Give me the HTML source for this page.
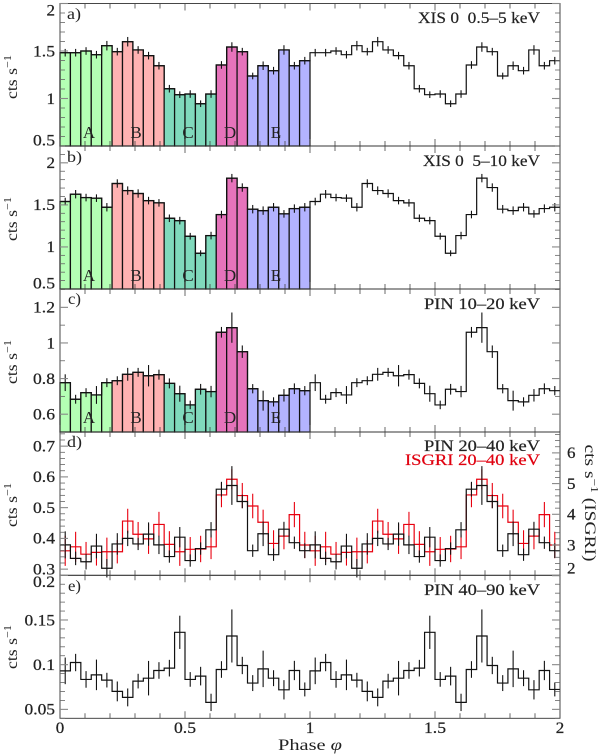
<!DOCTYPE html>
<html lang="en">
<head>
<meta charset="utf-8">
<title>Folded pulse profiles</title>
<style>
html,body{margin:0;padding:0;background:#fff;}
#chart{display:block;width:600px;height:756px;}
text{font-family:"Liberation Serif",serif;font-size:16px;fill:#222;}
.title{stroke:#222;stroke-width:.2px;}
.tick{stroke:#222;stroke-width:.25px;}
</style>
</head>
<body>
<svg id="chart" xmlns="http://www.w3.org/2000/svg" width="600" height="756" viewBox="0 0 600 756">
  <g id="marks"></g>
  <g id="axes"></g>

  <g>
    <text x="67" y="19" textLength="14" lengthAdjust="spacingAndGlyphs">a)</text>
    <text x="67" y="162" textLength="15" lengthAdjust="spacingAndGlyphs">b)</text>
    <text x="68" y="304" textLength="13" lengthAdjust="spacingAndGlyphs">c)</text>
    <text x="67" y="447" textLength="15" lengthAdjust="spacingAndGlyphs">d)</text>
    <text x="68" y="591" textLength="13" lengthAdjust="spacingAndGlyphs">e)</text>
  </g>

  <g text-anchor="end">
    <text class="title" x="540" y="23" textLength="122" lengthAdjust="spacingAndGlyphs">XIS 0 &#160;0.5–5 keV</text>
    <text class="title" x="540" y="166" textLength="117" lengthAdjust="spacingAndGlyphs">XIS 0 &#160;5–10 keV</text>
    <text class="title" x="540" y="309" textLength="116" lengthAdjust="spacingAndGlyphs">PIN 10–20 keV</text>
    <text class="title" x="540" y="451" textLength="116" lengthAdjust="spacingAndGlyphs">PIN 20–40 keV</text>
    <text class="title" x="540" y="465" textLength="135" lengthAdjust="spacingAndGlyphs" style="fill:#e0000f;stroke:#e0000f">ISGRI 20–40 keV</text>
    <text class="title" x="540" y="595" textLength="116" lengthAdjust="spacingAndGlyphs">PIN 40–90 keV</text>
  </g>

  <g text-anchor="middle" style="font-size:17px">
    <text x="89" y="138" style="font-size:17px">A</text>
    <text x="136" y="138" style="font-size:17px">B</text>
    <text x="188" y="138" style="font-size:17px">C</text>
    <text x="230" y="138" style="font-size:17px">D</text>
    <text x="276" y="138" style="font-size:17px">E</text>
    <text x="89" y="281" style="font-size:17px">A</text>
    <text x="136" y="281" style="font-size:17px">B</text>
    <text x="188" y="281" style="font-size:17px">C</text>
    <text x="230" y="281" style="font-size:17px">D</text>
    <text x="276" y="281" style="font-size:17px">E</text>
    <text x="89" y="423" style="font-size:17px">A</text>
    <text x="136" y="423" style="font-size:17px">B</text>
    <text x="188" y="423" style="font-size:17px">C</text>
    <text x="230" y="423" style="font-size:17px">D</text>
    <text x="276" y="423" style="font-size:17px">E</text>
  </g>

  <g text-anchor="middle">
    <text transform="translate(17,77) rotate(-90)" textLength="44" lengthAdjust="spacingAndGlyphs">cts s<tspan dy="-6" style="font-size:11px">−1</tspan></text>
    <text transform="translate(17,219) rotate(-90)" textLength="44" lengthAdjust="spacingAndGlyphs">cts s<tspan dy="-6" style="font-size:11px">−1</tspan></text>
    <text transform="translate(17,362) rotate(-90)" textLength="44" lengthAdjust="spacingAndGlyphs">cts s<tspan dy="-6" style="font-size:11px">−1</tspan></text>
    <text transform="translate(17,505) rotate(-90)" textLength="44" lengthAdjust="spacingAndGlyphs">cts s<tspan dy="-6" style="font-size:11px">−1</tspan></text>
    <text transform="translate(17,647) rotate(-90)" textLength="44" lengthAdjust="spacingAndGlyphs">cts s<tspan dy="-6" style="font-size:11px">−1</tspan></text>
    <text transform="translate(585,503) rotate(90)" textLength="117" lengthAdjust="spacingAndGlyphs">cts s<tspan dy="-6" style="font-size:11px">−1</tspan><tspan dy="6"> (ISGRI)</tspan></text>
    <text x="310" y="750" textLength="64" lengthAdjust="spacingAndGlyphs">Phase <tspan font-style="italic">φ</tspan></text>
  </g>
</svg>

<script>
// Shared x axis (phase) and bins
const xTickLabels = [0, 0.5, 1, 1.5, 2];
const regionColors = ["#b4ffb4", "#ffb2b2", "#80d9bc", "#e673bb", "#b3b3ff"];
const regionBins = [5, 5, 5, 3, 6];

// Panel a: XIS 0 0.5-5 keV
const xisSoftValues = [1.482,1.482,1.5,1.461,1.556,1.493,1.598,1.511,1.451,1.345,1.103,1.04,1.047,0.945,1.047,1.353,1.542,1.493,1.237,1.345,1.293,1.511,1.345,1.398];
const xisSoftErrors = [0.04,0.04,0.04,0.04,0.05,0.04,0.05,0.04,0.04,0.04,0.04,0.035,0.04,0.035,0.04,0.04,0.05,0.04,0.035,0.045,0.04,0.05,0.04,0.04];
const xisSoftTicks = [0.5, 1, 1.5, 2];

// Panel b: XIS 0 5-10 keV
const xisHardValues = [1.54,1.627,1.587,1.58,1.472,1.754,1.67,1.635,1.551,1.524,1.341,1.313,1.127,0.925,1.135,1.385,1.818,1.706,1.449,1.432,1.472,1.393,1.456,1.472];
const xisHardErrors = [0.045,0.05,0.045,0.045,0.05,0.05,0.05,0.05,0.045,0.045,0.045,0.045,0.04,0.035,0.045,0.045,0.05,0.05,0.05,0.05,0.05,0.045,0.05,0.05];
const xisHardTicks = [0.5, 1, 1.5, 2];

// Panel c: PIN 10-20 keV
const pin1020Values = [0.777,0.684,0.721,0.708,0.777,0.788,0.824,0.835,0.816,0.822,0.773,0.715,0.652,0.74,0.727,1.06,1.086,0.951,0.743,0.676,0.669,0.706,0.743,0.732];
const pin1020Errors = [0.047,0.025,0.025,0.05,0.025,0.025,0.036,0.025,0.06,0.028,0.028,0.045,0.024,0.03,0.032,0.03,0.085,0.035,0.026,0.056,0.026,0.035,0.03,0.026];
const pin1020Ticks = [0.6, 0.8, 1, 1.2];

// Panel d: PIN 20-40 keV (left axis) and ISGRI 20-40 keV (right axis)
const pin2040Values = [0.379,0.335,0.324,0.375,0.303,0.382,0.4,0.382,0.414,0.379,0.341,0.404,0.328,0.367,0.428,0.56,0.572,0.52,0.36,0.415,0.347,0.43,0.386,0.36];
const pin2040Errors = [0.044,0.022,0.025,0.04,0.03,0.035,0.025,0.02,0.038,0.03,0.02,0.033,0.02,0.02,0.025,0.024,0.063,0.022,0.02,0.04,0.02,0.024,0.02,0.024];
const pin2040Ticks = [0.3, 0.4, 0.5, 0.6, 0.7];
const isgriValues = [2.81,2.94,2.7,2.76,2.78,2.78,3.78,3.35,3.2,3.67,3.02,2.78,2.86,2.87,2.94,4.63,5.14,4.61,4.27,3.74,3.05,3.29,3.99,3.0];
const isgriErrors = [0.49,0.49,0.4,0.43,0.46,0.38,0.4,0.4,0.49,0.41,0.43,0.46,0.4,0.43,0.4,0.4,0.33,0.41,0.4,0.41,0.43,0.43,0.41,0.43];
const isgriTicks = [2, 3, 4, 5, 6];

// Panel e: PIN 40-90 keV
const pin4090Values = [0.0931,0.1024,0.0835,0.0886,0.0827,0.0701,0.0634,0.0816,0.0849,0.0935,0.0961,0.1362,0.0835,0.0872,0.0578,0.0946,0.1321,0.0991,0.0794,0.0953,0.0849,0.0719,0.0935,0.0723];
const pin4090Errors = [0.0149,0.0097,0.0093,0.0171,0.0082,0.0111,0.01,0.0082,0.0193,0.0093,0.0093,0.0186,0.0082,0.0104,0.0097,0.0093,0.0297,0.0097,0.0089,0.0204,0.0089,0.0108,0.0108,0.0078];
const pin4090Ticks = [0.05, 0.1, 0.15, 0.2];

const SVG_NS = "http://www.w3.org/2000/svg";
const marksLayer = document.getElementById("marks");
const axesLayer = document.getElementById("axes");
const plotLeft = 60;
const plotRight = 560;

function xScale(phase) {
  return plotLeft + (plotRight - plotLeft) * phase / 2;
}
function linearY(lo, hi, bottom, top) {
  return function (v) { return bottom - (v - lo) * (bottom - top) / (hi - lo); };
}
function binEdge(i) {
  return xScale(i / 24);
}
function labelWidth(str) {
  let w = 0;
  for (const ch of str) w += ch === "." ? 5 : 8.5;
  return w;
}

function drawNode(parent, tag, attrs, name) {
  const node = document.createElementNS(SVG_NS, tag);
  for (const key in attrs) node.setAttribute(key, attrs[key]);
  
  
  parent.appendChild(node);
  return node;
}

function drawBars(values, y, base, prefix) {
  let bin = 0;
  regionBins.forEach(function (count, region) {
    for (let k = 0; k < count; k++) {
      const i = bin + k;
      const top = y(values[i]);
      drawNode(marksLayer, "rect", {
        x: binEdge(i), y: top, width: binEdge(i + 1) - binEdge(i), height: base - top,
        fill: regionColors[region], stroke: "#111", "stroke-width": 1.25
      }, prefix + "-bar-" + (i + 1));
    }
    bin += count;
  });
}

function drawSeries(values, errors, y, color, prefix) {
  const n = values.length;
  let d = "";
  for (let c = 0; c < 2; c++) {
    for (let i = 0; i < n; i++) {
      const b = c * n + i;
      d += (b === 0 ? "M" : "L") + binEdge(b) + " " + y(values[i]) + "L" + binEdge(b + 1) + " " + y(values[i]);
    }
  }
  drawNode(marksLayer, "path", { d: d, fill: "none", stroke: color, "stroke-width": 1.2 }, prefix + "-step-line");
  for (let c = 0; c < 2; c++) {
    for (let i = 0; i < n; i++) {
      const b = c * n + i;
      const xm = (binEdge(b) + binEdge(b + 1)) / 2;
      drawNode(marksLayer, "line", {
        x1: xm, x2: xm, y1: y(values[i] - errors[i]), y2: y(values[i] + errors[i]),
        stroke: color, "stroke-width": 1.1
      }, prefix + "-error-bar-" + (b + 1));
    }
  }
}

function drawFrame(top, bottom, prefix) {
  drawNode(axesLayer, "rect", {
    x: plotLeft, y: top, width: plotRight - plotLeft, height: bottom - top,
    fill: "none", stroke: "#333", "stroke-width": 0.9
  }, prefix + "-frame");
  for (let t = 0; t <= 20; t++) {
    const px = xScale(t / 10);
    const len = t % 5 === 0 ? 7 : 5;
    drawNode(axesLayer, "line", { x1: px, x2: px, y1: bottom, y2: bottom - len, stroke: "#444", "stroke-width": 0.8 }, prefix + "-x-tick-bottom");
    drawNode(axesLayer, "line", { x1: px, x2: px, y1: top, y2: top + len, stroke: "#444", "stroke-width": 0.8 }, prefix + "-x-tick-top");
  }
}

function drawYTicks(lo, hi, minorStep, majorEvery, y, side, prefix) {
  const count = Math.round((hi - lo) / minorStep);
  const anchor = Math.round(lo / minorStep);
  for (let k = 0; k <= count; k++) {
    const idx = anchor + k;
    const py = y(idx * minorStep);
    const major = idx % majorEvery === 0;
    const len = major ? 8 : 5;
    const col = major ? "#888" : "#666";
    if (side !== "right") {
      drawNode(axesLayer, "line", { x1: plotLeft, x2: plotLeft + len, y1: py, y2: py, stroke: col, "stroke-width": major ? 1.1 : 0.8 }, prefix + "-y-tick-left");
    }
    if (side !== "left") {
      drawNode(axesLayer, "line", { x1: plotRight, x2: plotRight - len, y1: py, y2: py, stroke: col, "stroke-width": major ? 1.1 : 0.8 }, prefix + "-y-tick-right");
    }
  }
}

function drawYLabels(ticks, y, top, bottom, x, anchor, prefix) {
  ticks.forEach(function (v) {
    const py = Math.min(bottom - 6, Math.max(top + 6.5, y(v)));
    const str = String(v);
    const label = drawNode(axesLayer, "text", {
      x: x, y: py + 5.3, "text-anchor": anchor, "class": "tick",
      textLength: labelWidth(str), lengthAdjust: "spacingAndGlyphs"
    }, prefix + "-y-tick-label");
    label.textContent = str;
  });
}

function drawXLabels() {
  xTickLabels.forEach(function (v) {
    const str = String(v);
    const label = drawNode(axesLayer, "text", {
      x: xScale(v), y: 733, "text-anchor": "middle", "class": "tick",
      textLength: labelWidth(str), lengthAdjust: "spacingAndGlyphs"
    }, "x-tick-label");
    label.textContent = str;
  });
}

// Panel a
const yA = linearY(0.5, 2, 146, 3.5);
drawBars(xisSoftValues, yA, 146, "xis-soft");
drawSeries(xisSoftValues, xisSoftErrors, yA, "#111", "xis-soft");
drawFrame(3.5, 146, "panel-a");
drawYTicks(0.5, 2, 0.1, 5, yA, "both", "panel-a");
drawYLabels(xisSoftTicks, yA, 3.5, 146, 55, "end", "panel-a");

// Panel b
const yB = linearY(0.5, 2.2, 289, 146);
drawBars(xisHardValues, yB, 289, "xis-hard");
drawSeries(xisHardValues, xisHardErrors, yB, "#111", "xis-hard");
drawFrame(146, 289, "panel-b");
drawYTicks(0.5, 2.2, 0.1, 5, yB, "both", "panel-b");
drawYLabels(xisHardTicks, yB, 146, 289, 55, "end", "panel-b");

// Panel c
const yC = linearY(0.5, 1.303, 432, 289);
drawBars(pin1020Values, yC, 432, "pin-10-20");
drawSeries(pin1020Values, pin1020Errors, yC, "#111", "pin-10-20");
drawFrame(289, 432, "panel-c");
drawYTicks(0.5, 1.3, 0.1, 2, yC, "both", "panel-c");
drawYLabels(pin1020Ticks, yC, 289, 432, 55, "end", "panel-c");

// Panel d
const yD = linearY(0.28, 0.746, 575.3, 432);
const yDRight = linearY(2, 6.667, 575.7, 432.4);
drawSeries(isgriValues, isgriErrors, yDRight, "#e8000f", "isgri-20-40");
drawSeries(pin2040Values, pin2040Errors, yD, "#111", "pin-20-40");
drawFrame(432, 575.3, "panel-d");
drawYTicks(0.28, 0.74, 0.02, 5, yD, "left", "panel-d");
drawYTicks(2, 6.6, 0.2, 5, yDRight, "right", "panel-d");
drawYLabels(pin2040Ticks, yD, 432, 575.3, 55, "end", "panel-d");
drawYLabels(isgriTicks, yDRight, 432, 574.3, 567, "start", "panel-d-right");

// Panel e
const yE = linearY(0.04, 0.2, 718.3, 575.3);
drawSeries(pin4090Values, pin4090Errors, yE, "#111", "pin-40-90");
drawFrame(575.3, 718.3, "panel-e");
drawYTicks(0.04, 0.2, 0.01, 5, yE, "both", "panel-e");
drawYLabels(pin4090Ticks, yE, 575.3, 718.3, 55, "end", "panel-e");

drawXLabels();
</script>
</body>
</html>
